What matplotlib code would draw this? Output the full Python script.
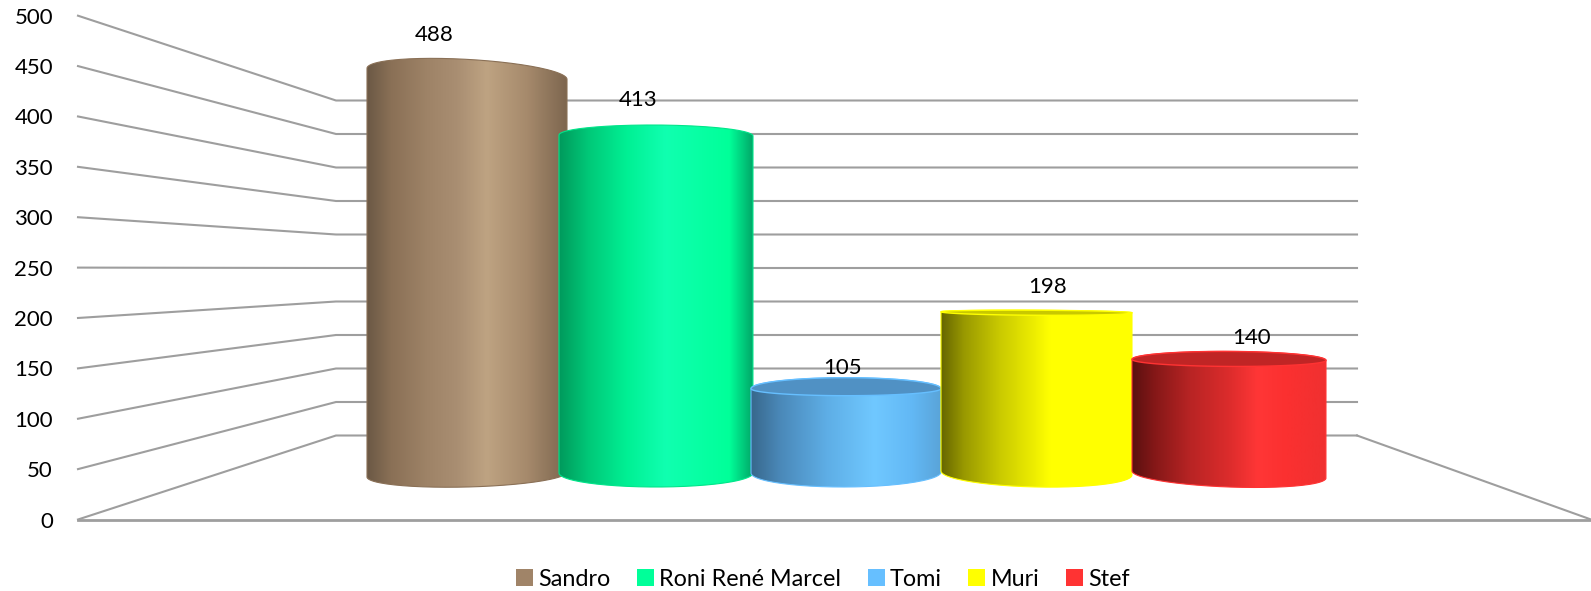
import numpy as np
import matplotlib
matplotlib.use("Agg")
import matplotlib.pyplot as plt
from matplotlib.colors import to_rgb
from matplotlib.patches import Patch, PathPatch
from matplotlib.path import Path

# ---- data ----
categories = ["Sandro", "Roni René Marcel", "Tomi", "Muri", "Stef"]
values = [488, 413, 105, 198, 140]
y_ticks = [0, 50, 100, 150, 200, 250, 300, 350, 400, 450, 500]
legend_colors = ["#A08468", "#00FF99", "#66BFFF", "#FFFF00", "#FF3333"]

# ---- style / layout (pixel geometry of the picture) ----
W, H = 1591, 591
plt.rcParams["font.family"] = ["Lato", "DejaVu Sans"]
FS = 16
FS_LEGEND = 16.8
GRID = "#9e9e9e"
FRONT_Y0, FRONT_PX = 519.5, 1.0076      # front plane: px of value 0, px per unit
BACK_Y0, BACK_PX = 435.5, 0.67          # back wall
BAR_Y0, BAR_PX = 475.0, 0.822           # plane of the cylinders
FRONT_L, BACK_L, BACK_R = 78, 336, 1357
bar_left = [367, 559, 751, 941, 1132]
bar_right = [567, 753, 941, 1132, 1326]
cap_rise = [14.5, 10.5, 11, 2, 8.5]
cap_drop = [None, None, 7, 3, 6.5]
cap_tilt = [11, 1, 0, 1, 1]
foot_left = [477, 473, 473, 471, 471]
foot_right = [472, 473, 472, 475, 478]
FOOT_LOW = 487
label_x = [434, 638.5, 843, 1048, 1252]
LABEL_Y0, LABEL_PX = 459.7, 0.871
face_color = [None, None, "#5091c4", "#c8c800", "#c02525"]
rim_color = ["#8a7056", "#00e58a", "#66bfff", "#ffff00", "#ff3333"]
stops = [
    [(0, "#6b5845"), (.12, "#8a7056"), (.3, "#9e8367"), (.45, "#a98e72"), (.6, "#bea382"), (.8, "#a68a6c"), (1, "#7d664f")],
    [(0, "#009a5c"), (.15, "#00c878"), (.35, "#00f094"), (.55, "#10ffb0"), (.88, "#00ff99"), (1, "#00a868")],
    [(0, "#38688c"), (.15, "#4a88b8"), (.4, "#5eaee6"), (.65, "#70c8ff"), (.85, "#62b8f5"), (1, "#5aa4d8")],
    [(0, "#666600"), (.12, "#999900"), (.3, "#c8c800"), (.5, "#f0f000"), (.57, "#ffff00"), (1, "#ffff00")],
    [(0, "#5a1010"), (.12, "#861818"), (.3, "#b82424"), (.5, "#dc2c2c"), (.65, "#ff3636"), (.8, "#fb3030"), (1, "#f03030")],
]

fig = plt.figure(figsize=(W / 100, H / 100), dpi=100)
top_px = FRONT_Y0 - 500 * FRONT_PX
ax = fig.add_axes([FRONT_L / W, 1 - FRONT_Y0 / H, (W - FRONT_L) / W, (FRONT_Y0 - top_px) / H])
ax.set_xlim(FRONT_L, W)
ax.set_ylim(0, 500)


def val(px):
    """Picture row -> value on the axis scale."""
    return (FRONT_Y0 - np.asarray(px, dtype=float)) / FRONT_PX


# walls and grid
for v in y_ticks:
    yb = BACK_Y0 - v * BACK_PX
    ax.plot([FRONT_L, BACK_L, BACK_R], [v, val(yb), val(yb)], color=GRID, lw=1.5,
            solid_joinstyle="miter", zorder=1, clip_on=False)
ax.plot([BACK_R, W], [val(BACK_Y0), 0], color=GRID, lw=1.5, zorder=1, clip_on=False)


def arc(xl, xr, yl, yr, b, start, end):
    t = np.linspace(start, end, 80)
    xc, a = (xl + xr) / 2, (xr - xl) / 2
    yc, s = (yl + yr) / 2, (yr - yl) / 2
    return xc + a * np.cos(t), yc + s * np.cos(t) + b * np.sin(t)


for i, v in enumerate(values):
    xl, xr = bar_left[i], bar_right[i]
    yc = BAR_Y0 - v * BAR_PX
    yl, yr = yc - cap_tilt[i] / 2, yc + cap_tilt[i] / 2
    fl, fr = foot_left[i], foot_right[i]
    # silhouette: upper cap arc, right side, lower foot arc, left side (rows grow downward)
    tx, ty = arc(xl, xr, yl, yr, cap_rise[i], np.pi, 2 * np.pi)
    bx, by = arc(xl, xr, fl, fr, FOOT_LOW - (fl + fr) / 2, 0, np.pi)
    xs = np.r_[tx, bx, tx[0]]
    ys = val(np.r_[ty, by, ty[0]])
    path = Path(np.c_[xs, ys])
    outline = PathPatch(path, facecolor="none", edgecolor=rim_color[i], lw=0.8, zorder=3 + i)
    ax.add_patch(outline)
    pos = [p for p, _ in stops[i]]
    rgb = np.array([to_rgb(c) for _, c in stops[i]])
    u = np.linspace(0, 1, 256)
    grad = np.stack([np.interp(u, pos, rgb[:, k]) for k in range(3)], axis=1)[None, :, :]
    im = ax.imshow(grad, extent=[xl, xr, 0, 500], aspect="auto", interpolation="bilinear",
                   zorder=2.5 + i)
    im.set_clip_path(PathPatch(path, transform=ax.transData))
    if face_color[i]:
        dx, dy = arc(xl, xr, yl, yr, cap_drop[i], 0, np.pi)
        fx = np.r_[tx, dx]
        fy = val(np.r_[ty, dy])
        ax.fill(fx, fy, facecolor=face_color[i], edgecolor=rim_color[i], lw=1.0, zorder=3.2 + i)
    ax.text(label_x[i], val(LABEL_Y0 - v * LABEL_PX), str(v), ha="center", va="center",
            fontsize=FS, color="black", zorder=20)

ax.set_xlim(FRONT_L, W)
ax.set_ylim(0, 500)
ax.set_xticks([])
ax.set_yticks(y_ticks)
ax.tick_params(axis="y", length=0, pad=18, labelsize=FS, labelcolor="black")
for name in ("top", "left", "right"):
    ax.spines[name].set_visible(False)
ax.spines["bottom"].set_color(GRID)
ax.spines["bottom"].set_linewidth(2.0)
ax.patch.set_alpha(0)

handles = [Patch(facecolor=c, edgecolor="none", label=n) for c, n in zip(legend_colors, categories)]
fig.legend(handles=handles, loc="center", bbox_to_anchor=(823 / W, 1 - 579.5 / H), ncol=5,
           frameon=False, fontsize=FS_LEGEND, handlelength=0.73, handleheight=0.73, handletextpad=0.22,
           columnspacing=1.13, borderpad=0, labelspacing=0)
fig.savefig("out.png", dpi=100, facecolor="white")
